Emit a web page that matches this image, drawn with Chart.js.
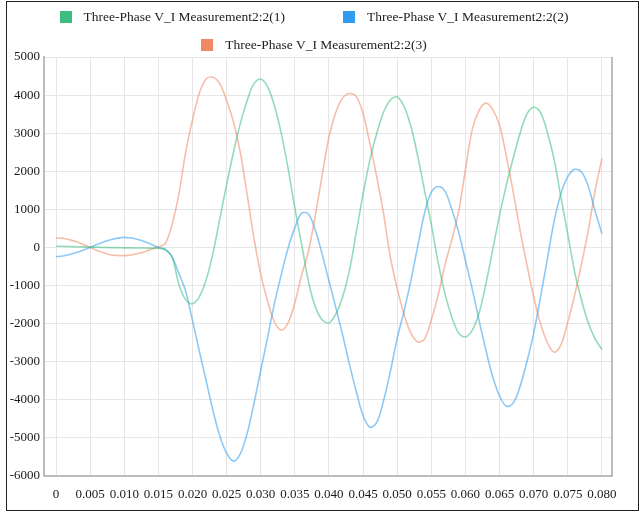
<!DOCTYPE html>
<html>
<head>
<meta charset="utf-8">
<script src="https://cdn.jsdelivr.net/npm/chart.js@4.4.1/dist/chart.umd.min.js"></script>
<style>
  html, body { margin: 0; padding: 0; background: #fff; }
  #wrap { position: relative; width: 641px; height: 512px; overflow: hidden; }
  #frame { position: absolute; left: 6px; top: 1px; width: 633px; height: 510px; border: 1px solid #222; box-sizing: border-box; pointer-events: none; }
  #legend { position: absolute; left: 54px; top: 9px; width: 520px; display: flex; flex-wrap: wrap; justify-content: center; column-gap: 58px; row-gap: 12px; font: 13.5px "Liberation Serif", serif; color: #222; }
  #legend .item { display: flex; align-items: center; height: 16px; white-space: nowrap; }
  #legend .box { width: 12px; height: 12px; margin-right: 12px; }
  #chartBox { position: absolute; left: 0; top: 0; width: 641px; height: 512px; }
</style>
</head>
<body>
<div id="wrap">
  <div id="chartBox"><canvas id="chart"></canvas></div>
  <div id="legend"></div>
  <div id="frame"></div>
</div>
<script>
// sampled every 1 ms, 0 .. 80 ms
const sampleStep = 0.001;
const sampleCount = 81;
const times = Array.from({ length: sampleCount }, (_, i) => +(i * sampleStep).toFixed(3));

const xTicks = [0, 0.005, 0.010, 0.015, 0.020, 0.025, 0.030, 0.035, 0.040,
  0.045, 0.050, 0.055, 0.060, 0.065, 0.070, 0.075, 0.080];

const seriesNames = [
  'Three-Phase V_I Measurement2:2(1)',
  'Three-Phase V_I Measurement2:2(2)',
  'Three-Phase V_I Measurement2:2(3)',
];
const seriesColors = ['61, 189, 128', '47, 156, 240', '239, 137, 98'];

const phase1 = [
  30, 30, 25, 20, 15, 10, 5, 0, -5, -5,
  -10, -10, -15, -15, -20, -20, -60, -250, -970, -1370,
  -1480, -1300, -850, -150, 750, 1650, 2500, 3250, 3850, 4300,
  4420, 4220, 3720, 3000, 2080, 1030, 80, -900, -1560, -1900,
  -1980, -1750, -1300, -600, 400, 1400, 2300, 3000, 3550, 3870,
  3950, 3700, 3180, 2400, 1500, 600, -400, -1220, -1830, -2250,
  -2350, -2170, -1720, -950, -50, 850, 1650, 2350, 3000, 3500,
  3680, 3540, 3020, 2300, 1300, 340, -640, -1380, -1980, -2400,
  -2680,
];

const phase2 = [
  -240, -225, -185, -135, -70, 0, 75, 145, 205, 245,
  265, 250, 210, 150, 80, 0, -45, -250, -680, -1150,
  -1920, -2720, -3500, -4280, -4950, -5400, -5610, -5420, -4890, -4100,
  -3230, -2360, -1480, -720, -20, 520, 900, 870, 450, -180,
  -880, -1580, -2300, -3070, -3780, -4420, -4720, -4590, -4020, -3250,
  -2380, -1670, -870, 30, 900, 1450, 1600, 1470, 1000, 400,
  -350, -1100, -1920, -2700, -3400, -3900, -4170, -4080, -3650, -3000,
  -2250, -1300, -300, 700, 1420, 1860, 2050, 1980, 1600, 950,
  360,
];

const phase3 = [
  250, 240, 200, 150, 80, 0, -80, -140, -190, -210,
  -215, -200, -160, -110, -50, 20, 100, 600, 1400, 2500,
  3350, 4050, 4420, 4470, 4300, 3850, 3300, 2500, 1400, 250,
  -700, -1400, -1950, -2170, -1980, -1450, -720, -100, 850, 1900,
  2900, 3550, 3920, 4040, 3960, 3510, 2720, 1850, 880, -260,
  -1080, -1750, -2250, -2480, -2400, -1900, -1250, -450, 200, 950,
  2050, 3100, 3600, 3790, 3620, 3200, 2380, 1450, 450, -450,
  -1300, -2000, -2500, -2750, -2550, -1950, -1250, -430, 450, 1500,
  2330,
];

const yMin = -6000;
const yMax = 5000;
const yStep = 1000;

const serif = "'Liberation Serif', serif";

function toPoints(values) {
  return values.map((v, i) => ({ x: times[i], y: v }));
}

// right edge of the plot frame
const plotEdge = {
  id: 'plotEdge',
  beforeDatasetsDraw(chart) {
    const { ctx, chartArea } = chart;
    ctx.save();
    ctx.strokeStyle = '#a8a8a8';
    ctx.lineWidth = 1.5;
    ctx.beginPath();
    ctx.moveTo(chartArea.right, chartArea.top);
    ctx.lineTo(chartArea.right, chartArea.bottom);
    ctx.stroke();
    ctx.restore();
  },
};

function buildLegend(chart) {
  const legendEl = document.getElementById('legend');
  chart.data.datasets.forEach((ds) => {
    const item = document.createElement('div');
    item.className = 'item';
    const box = document.createElement('span');
    box.className = 'box';
    box.style.background = ds.backgroundColor;
    const text = document.createElement('span');
    text.textContent = ds.label;
    item.appendChild(box);
    item.appendChild(text);
    legendEl.appendChild(item);
  });
}

function createChart() {
  Chart.defaults.font.family = serif;

  const data = {
    datasets: [phase1, phase2, phase3].map((values, i) => ({
      label: seriesNames[i],
      data: toPoints(values),
      borderColor: 'rgba(' + seriesColors[i] + ', 0.55)',
      backgroundColor: 'rgb(' + seriesColors[i] + ')',
      borderWidth: 1.6,
      pointRadius: 0,
      tension: 0.35,
    })),
  };

  const chart = new Chart(document.getElementById('chart'), {
    type: 'line',
    data: data,
    plugins: [plotEdge],
    options: {
      responsive: true,
      maintainAspectRatio: false,
      animation: false,
      layout: { padding: { top: 57, right: 29, left: 0, bottom: 0 } },
      plugins: {
        legend: { display: false },
        tooltip: { enabled: false },
      },
      scales: {
        x: {
          type: 'linear',
          min: -0.00176,
          max: 0.08147,
          afterBuildTicks(scale) {
            scale.ticks = xTicks.map((v) => ({ value: v }));
          },
          afterFit(scale) {
            scale.height = 36;
          },
          ticks: {
            autoSkip: false,
            maxRotation: 0,
            padding: 11,
            color: '#1a1a1a',
            font: { family: serif, size: 13 },
            callback: (v) => (v === 0 ? '0' : v.toFixed(3)),
          },
          grid: { color: '#e6e6e6', lineWidth: 1, drawTicks: false },
          border: { color: '#bdbdbd', width: 2 },
        },
        y: {
          min: yMin,
          max: yMax,
          afterFit(scale) {
            scale.width = 44;
          },
          ticks: {
            stepSize: yStep,
            padding: 4,
            color: '#1a1a1a',
            font: { family: serif, size: 13 },
            callback: (v) => String(v),
          },
          grid: { color: '#e6e6e6', lineWidth: 1, drawTicks: false },
          border: { color: '#bdbdbd', width: 2 },
        },
      },
    },
  });

  buildLegend(chart);
}

document.fonts.load("13px 'Liberation Serif'").then(createChart, createChart);
</script>
</body>
</html>
